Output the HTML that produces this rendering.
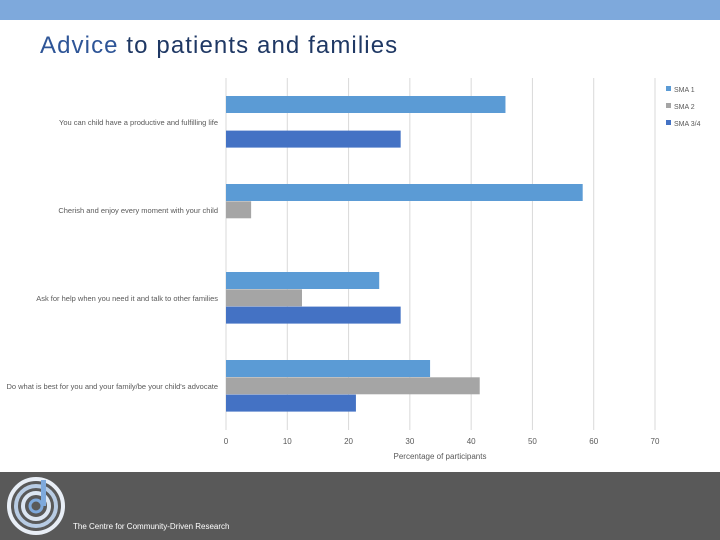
<!DOCTYPE html>
<html><head><meta charset="utf-8"><style>
body{margin:0;width:720px;height:540px;overflow:hidden;background:#fff;font-family:"Liberation Sans",sans-serif;position:relative}
</style></head><body>
<div style="position:absolute;left:0;top:0;width:720px;height:20px;background:#7ea9dc"></div>
<div style="position:absolute;left:40px;top:32px;font-size:24px;letter-spacing:1.1px;color:#1f3864"><span style="color:#2e5597">Advice</span> to patients and families</div>
<svg id="chart" width="720" height="472" style="position:absolute;left:0;top:0"></svg>
<div style="position:absolute;left:0;top:472px;width:720px;height:68px;background:#595959">
<svg width="60" height="60" style="position:absolute;left:6px;top:4px">
<circle cx="30" cy="30" r="27" fill="none" stroke="#e8eef6" stroke-width="4"/>
<circle cx="30" cy="30" r="20" fill="none" stroke="#b8cce4" stroke-width="4"/>
<circle cx="30" cy="30" r="13" fill="none" stroke="#dce6f2" stroke-width="4"/>
<circle cx="30" cy="30" r="6" fill="none" stroke="#7ea9dc" stroke-width="3"/>
<rect x="35" y="4" width="5" height="26" fill="#7ea9dc"/>
</svg>
<div style="position:absolute;left:73px;top:50px;font-size:8px;color:#fff">The Centre for Community-Driven Research</div>
</div>
<script>
const categories=["You can child have a productive and fulfilling life","Cherish and enjoy every moment with your child","Ask for help when you need it and talk to other families","Do what is best for you and your family/be your child's advocate"];
const sma1=[45.6,58.2,25,33.3];
const sma2=[0,4.1,12.4,41.4];
const sma34=[28.5,0,28.5,21.2];
const seriesNames=["SMA 1","SMA 2","SMA 3/4"];
const ticks=[0,10,20,30,40,50,60,70];
const colors=["#5b9bd5","#a5a5a5","#4472c4"];
const svg=document.getElementById('chart');const NS="http://www.w3.org/2000/svg";
const x0=226,x1=655,yTop=78,yBot=430;
const xs=v=>x0+v/70*(x1-x0);
const band=(yBot-yTop)/categories.length;
function mk(t,a){const e=document.createElementNS(NS,t);for(const k in a)e.setAttribute(k,a[k]);svg.appendChild(e);return e;}
ticks.forEach(t=>{
 const g=mk('line',{x1:xs(t),x2:xs(t),y1:yTop,y2:yBot,stroke:'#d9d9d9','stroke-width':1});
 
 
 const l=mk('text',{x:xs(t),y:444,'font-size':8,fill:'#595959','text-anchor':'middle'});l.textContent=t;
 
 
});
const series=[sma1,sma2,sma34];
categories.forEach((c,i)=>{
 const cy=yTop+band*(i+0.5);
 series.forEach((s,j)=>{
  if(s[i]<=0)return;
  const r=mk('rect',{x:x0,y:cy-26+j*17.3,width:xs(s[i])-x0,height:17,fill:colors[j]});
  
  
 });
 const t=mk('text',{x:218,y:cy+3,'font-size':7.5,fill:'#595959','text-anchor':'end'});t.textContent=categories[i];
 
 
});
const at=mk('text',{x:440,y:459,'font-size':8,fill:'#595959','text-anchor':'middle'});at.textContent="Percentage of participants";


seriesNames.forEach((n,j)=>{
 const r=mk('rect',{x:666,y:86+j*17,width:5,height:5,fill:colors[j]});
 
 
 const t=mk('text',{x:674,y:92+j*17,'font-size':7,fill:'#595959'});t.textContent=n;
 
 
});
</script>
</body></html>
